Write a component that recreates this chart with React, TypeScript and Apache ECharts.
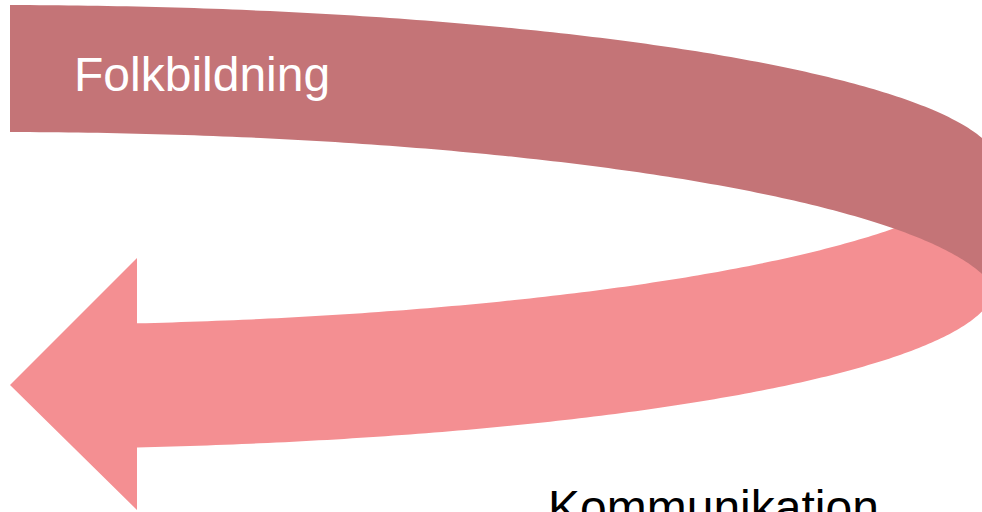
import React, { useEffect, useRef } from "react";
import * as echarts from "echarts";

// Labels of the diagram
const labels: string[] = ["Folkbildning", "Kommunikation"];
const labelColors: string[] = ["#FFFFFF", "#000000"];
// Band colours: returning arrow (front), upper band (back)
const bandColors: string[] = ["#F48F92", "#C47477"];

type Pt = [number, number];

// Points along an elliptical half edge, from angle a0 to a1 (radians)
function arc(cx: number, cy: number, rx: number, ry: number, a0: number, a1: number, sign: number, n = 160): Pt[] {
  const pts: Pt[] = [];
  for (let i = 0; i <= n; i++) {
    const a = a0 + ((a1 - a0) * i) / n;
    pts.push([cx + rx * Math.cos(a), cy + sign * ry * Math.sin(a)]);
  }
  return pts;
}

function buildShapes() {
  // upper (dark) band: outer edge and inner edge are top halves of ellipses
  const left = 10;
  const outer = { cx: 0, cy: 169, rx: 1000, ry: 164 };
  const inner = { cx: 0, cy: 307, rx: 1000, ry: 175 };
  const aO = Math.acos(left / outer.rx);
  const aI = Math.acos(left / inner.rx);
  const darkPts: Pt[] = [
    ...arc(outer.cx, outer.cy, outer.rx, outer.ry, aO, 0, -1),
    ...arc(inner.cx, inner.cy, inner.rx, inner.ry, 0, aI, -1),
  ];

  // lower (pink) band with arrow head: bottom halves of ellipses
  const shaftX = 137;
  const top = { cx: 0, cy: 150, rx: 1000, ry: 175 };
  const bot = { cx: 0, cy: 285, rx: 995, ry: 164 };
  const aT = Math.acos(shaftX / top.rx);
  const aB = Math.acos(shaftX / bot.rx);
  const pinkPts: Pt[] = [
    ...arc(top.cx, top.cy, top.rx, top.ry, aT, 0, 1),
    ...arc(bot.cx, bot.cy, bot.rx, bot.ry, 0, aB, 1),
    [shaftX, 510],
    [10, 385],
    [shaftX, 258],
  ];
  return { darkPts, pinkPts };
}

export default function App() {
  const ref = useRef<HTMLDivElement>(null);
  useEffect(() => {
    if (!ref.current) return;
    const chart = echarts.init(ref.current, undefined, { renderer: "svg" });
    const { darkPts, pinkPts } = buildShapes();
    const font = '48px "Liberation Sans", Arial, Helvetica, sans-serif';
    chart.setOption({
      animation: false,
      backgroundColor: "#FFFFFF",
      graphic: [
        { type: "polygon", z: 1, shape: { points: pinkPts }, style: { fill: bandColors[0] } },
        { type: "polygon", z: 2, shape: { points: darkPts }, style: { fill: bandColors[1] } },
        {
          type: "text",
          z: 3,
          x: 74,
          y: 74,
          style: { text: labels[0], fill: labelColors[0], font, align: "left", verticalAlign: "middle" },
        },
        {
          type: "text",
          z: 3,
          x: 548,
          y: 507,
          style: { text: labels[1], fill: labelColors[1], font, align: "left", verticalAlign: "middle" },
        },
      ],
    });
    return () => chart.dispose();
  }, []);
  return (
    <div
      ref={ref}
      style={{ position: "fixed", left: 0, top: 0, width: 982, height: 512, background: "#fff" }}
    />
  );
}
